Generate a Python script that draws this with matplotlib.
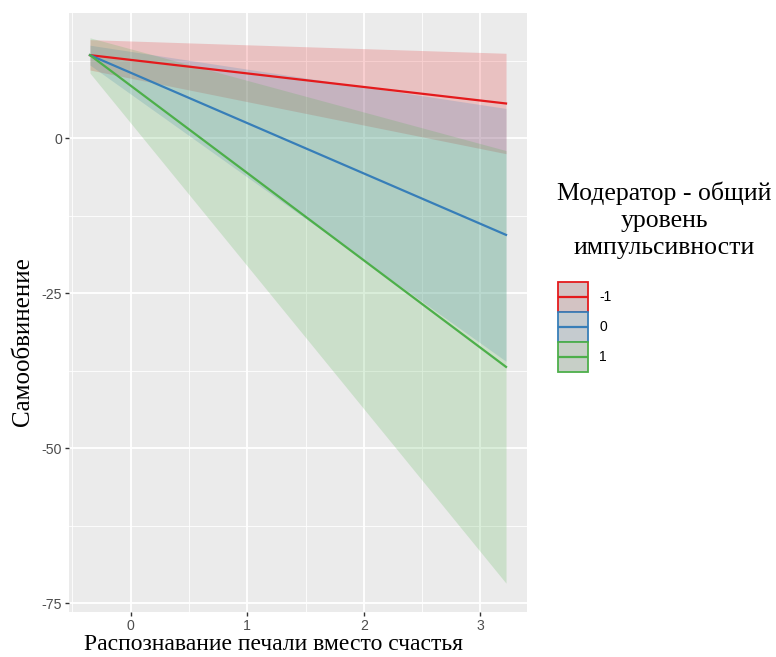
import matplotlib
matplotlib.use("Agg")
import matplotlib.pyplot as plt
from matplotlib.patches import Rectangle
from matplotlib.lines import Line2D
from matplotlib.ticker import MultipleLocator

plt.rcParams["axes.unicode_minus"] = False

# Data
x_vals = [-0.35, 3.22]
groups = ["-1", "0", "1"]
colors = ["#E41A1C", "#377EB8", "#4DAF4A"]
fit = {"-1": [13.4, 5.6], "0": [13.4, -15.6], "1": [13.4, -36.9]}
lower = {"-1": [11.0, -2.5], "0": [11.8, -36.0], "1": [10.5, -71.8]}
upper = {"-1": [15.9, 13.7], "0": [15.0, 4.8], "1": [16.2, -2.0]}
x_ticks = [0, 1, 2, 3]
y_ticks = [0, -25, -50, -75]

W, H = 776, 657
fig = plt.figure(figsize=(W / 100, H / 100), dpi=100)
l, r, t, b = 69, 527, 13, 612
ax = fig.add_axes([l / W, 1 - b / H, (r - l) / W, (b - t) / H])
ax.set_facecolor("#EBEBEB")
for s in ax.spines.values():
    s.set_visible(False)

ax.set_xlim(-0.53, 3.40)
ax.set_ylim(-76.45, 20.2)
ax.xaxis.set_minor_locator(MultipleLocator(0.5))
ax.yaxis.set_minor_locator(MultipleLocator(12.5))
ax.set_xticks(x_ticks)
ax.set_yticks(y_ticks)
ax.grid(which="major", color="white", linewidth=1.3)
ax.grid(which="minor", color="white", linewidth=0.6)
ax.set_axisbelow(True)
ax.tick_params(which="minor", length=0)
ax.tick_params(which="major", length=3, color="#333333", width=1,
               labelsize=10.2, labelcolor="#4D4D4D", pad=2)
for lab in ax.get_xticklabels() + ax.get_yticklabels():
    lab.set_family("Liberation Sans")

for g, c in zip(groups, colors):
    ax.fill_between(x_vals, lower[g], upper[g], color=c, alpha=0.2, linewidth=0)
for g, c in zip(groups, colors):
    ax.plot(x_vals, fit[g], color=c, linewidth=1.6)

fig.text(274 / W, 1 - 645 / H, "Распознавание печали вместо счастья",
         ha="center", va="center", family="Liberation Serif", fontsize=17)
fig.text(23 / W, 1 - 342 / H, "Самообвинение", rotation=90,
         ha="center", va="center", family="Liberation Serif", fontsize=18)

fig.text(664 / W, 1 - 220 / H, "Модератор - общий\nуровень\nимпульсивности",
         ha="center", va="center", family="Liberation Serif", fontsize=18.5,
         linespacing=1.3)

# legend keys
kx, ky0, kw, kh = 558, 282, 30, 30
for i, (g, c) in enumerate(zip(groups, colors)):
    y0 = ky0 + i * kh
    fig.patches.append(Rectangle((kx / W, 1 - (y0 + kh) / H), kw / W, kh / H,
                                 transform=fig.transFigure, facecolor="#D2D2D2",
                                 edgecolor=c, linewidth=1.3, alpha=1))
    fig.patches.append(Rectangle(((kx + 1) / W, 1 - (y0 + kh - 1) / H), (kw - 2) / W,
                                 (kh - 2) / H, transform=fig.transFigure,
                                 facecolor=c, alpha=0.08, linewidth=0))
    fig.lines.append(Line2D([(kx + 1) / W, (kx + kw - 1) / W],
                            [1 - (y0 + kh / 2) / H] * 2, transform=fig.transFigure,
                            color=c, linewidth=1.6))
    fig.text(599 / W, 1 - (y0 + kh / 2) / H, g, ha="left", va="center",
             family="Liberation Sans", fontsize=10, color="black")

fig.savefig("out.png", dpi=100)
